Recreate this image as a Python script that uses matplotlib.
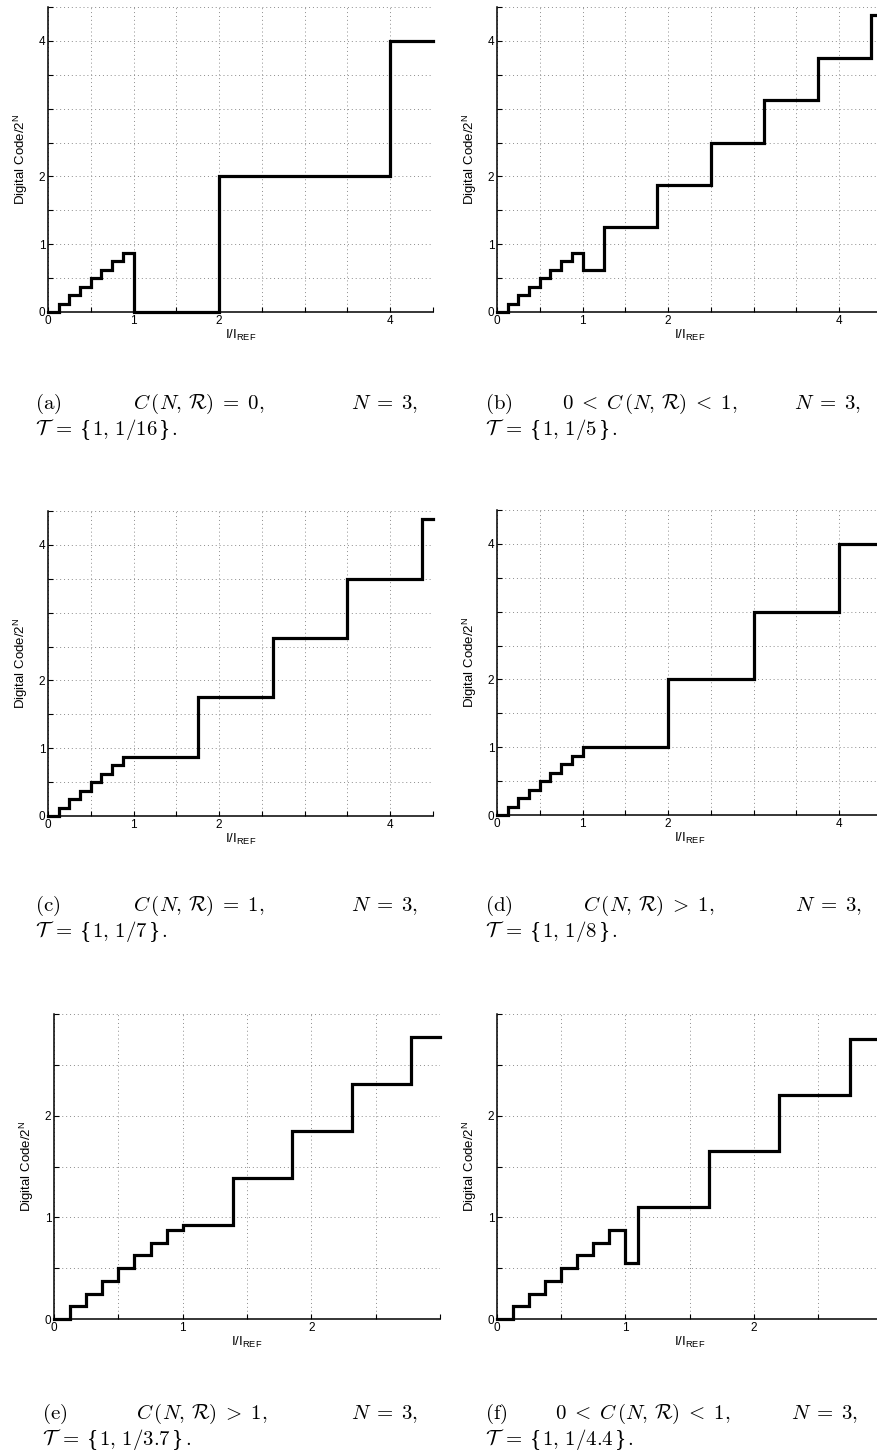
import numpy as np
import matplotlib
matplotlib.use('Agg')
import matplotlib.pyplot as plt

plt.rcParams['font.family'] = ['Liberation Sans', 'DejaVu Sans']
plt.rcParams['mathtext.fontset'] = 'custom'
plt.rcParams['mathtext.rm'] = 'Liberation Sans'
plt.rcParams['mathtext.it'] = 'Liberation Sans:italic'
plt.rcParams['mathtext.bf'] = 'Liberation Sans:bold'

W, H = 878, 1454

# fine range (first 8 codes) shared by every curve
fine_x = [0, 0.125, 0.25, 0.375, 0.5, 0.625, 0.75, 0.875]
fine_y = [0, 0.125, 0.25, 0.375, 0.5, 0.625, 0.75, 0.875]

# breakpoints on I/I_REF and the code level held after each one
a_x = fine_x + [1.0, 2.0, 4.0, 4.5]
a_y = fine_y + [0.0, 2.0, 4.0, 4.0]

b_x = fine_x + [1.0, 1.25, 1.875, 2.5, 3.125, 3.75, 4.375, 4.5]
b_y = fine_y + [0.625, 1.25, 1.875, 2.5, 3.125, 3.75, 4.375, 4.375]

c_x = fine_x + [1.75, 2.625, 3.5, 4.375, 4.5]
c_y = fine_y + [1.75, 2.625, 3.5, 4.375, 4.375]

d_x = fine_x + [1.0, 2.0, 3.0, 4.0, 4.5]
d_y = fine_y + [1.0, 2.0, 3.0, 4.0, 4.0]

e_x = fine_x + [1.0, 1.3875, 1.85, 2.3125, 2.775, 3.0]
e_y = fine_y + [0.925, 1.3875, 1.85, 2.3125, 2.775, 2.775]

f_x = fine_x + [1.0, 1.1, 1.65, 2.2, 2.75, 3.0]
f_y = fine_y + [0.55, 1.1, 1.65, 2.2, 2.75, 2.75]

big_ticks = [0, 0.5, 1, 1.5, 2, 2.5, 3, 3.5, 4, 4.5]
big_labels = ['0', '', '1', '', '2', '', '', '', '4', '']
small_ticks = [0, 0.5, 1, 1.5, 2, 2.5, 3]
small_labels = ['0', '', '1', '', '2', '', '']

tags = ['(a)', '(b)', '(c)', '(d)', '(e)', '(f)']
crn = r'C\,(N,\,\mathcal{R})'
conds = [crn + r'\;=\;0,', r'0\;<\;' + crn + r'\;<\;1,', crn + r'\;=\;1,',
         crn + r'\;>\;1,', crn + r'\;>\;1,', r'0\;<\;' + crn + r'\;<\;1,']
tsets = ['1/16', '1/5', '1/7', '1/8', '1/3.7', '1/4.4']

# pixel boxes: left, top, right, bottom
panels = [
    dict(box=(48, 7, 433, 312), x=a_x, y=a_y, big=True,
         cap=(35, 133, 418, 409)),
    dict(box=(497, 7, 882, 312), x=b_x, y=b_y, big=True,
         cap=(485, 562, 861, 409)),
    dict(box=(48, 511, 433, 816), x=c_x, y=c_y, big=True,
         cap=(35, 133, 418, 911)),
    dict(box=(497, 510, 882, 815), x=d_x, y=d_y, big=True,
         cap=(485, 583, 862, 911)),
    dict(box=(54, 1014, 440, 1319), x=e_x, y=e_y, big=False,
         cap=(42, 136, 418, 1419)),
    dict(box=(497, 1014, 882, 1319), x=f_x, y=f_y, big=False,
         cap=(485, 555, 858, 1419)),
]

fig = plt.figure(figsize=(W / 100, H / 100), dpi=100)
renderer = fig.canvas.get_renderer()


def fx(px):
    return px / W


def fy(py):
    return 1 - py / H


CAP = 15


def run_text(x, base, pieces):
    # lay out pieces left to right: (text, text kwargs, gap after in px)
    for s, kw, gap in pieces:
        t = fig.text(fx(x), fy(base), s, va='baseline', ha='left', **kw)
        x = t.get_window_extent(renderer).x1 + gap


cm = dict(math_fontfamily='cm', fontsize=CAP)
brace = dict(family='Liberation Serif', fontsize=CAP + 2)

for i, p in enumerate(panels):
    l, t, r, b = p['box']
    ax = fig.add_axes([fx(l), fy(b), (r - l) / W, (b - t) / H])
    ticks = big_ticks if p['big'] else small_ticks
    labels = big_labels if p['big'] else small_labels
    lim = ticks[-1]

    ax.step(p['x'], p['y'], where='post', color='black', lw=2.3,
            solid_joinstyle='miter', zorder=3, clip_on=False)

    ax.set_xlim(0, lim)
    ax.set_ylim(0, lim)
    ax.set_xticks(ticks)
    ax.set_xticklabels(labels)
    ax.set_yticks(ticks)
    ax.set_yticklabels(labels)
    ax.grid(True, color='0.55', lw=0.7, linestyle=(0, (1, 3)))
    ax.set_axisbelow(True)
    for s in ['top', 'right']:
        ax.spines[s].set_visible(False)
    for s in ['left', 'bottom']:
        ax.spines[s].set_linewidth(1.1)
    ax.tick_params(direction='in', length=3.5, width=0.8, labelsize=8.5,
                   pad=2, top=False, right=False)
    ax.set_xlabel(r'I/I$_{\mathrm{REF}}$', fontsize=9.5, labelpad=1)
    ax.set_ylabel(r'Digital Code/2$^{\mathrm{N}}$', fontsize=9.5, labelpad=6)

    # caption below the panel
    x0, x1, x2, base = p['cap']
    fig.text(fx(x0), fy(base), r'$\mathrm{' + tags[i] + '}$',
             va='baseline', ha='left', **cm)
    fig.text(fx(x1), fy(base), '$' + conds[i] + '$',
             va='baseline', ha='left', **cm)
    fig.text(fx(x2), fy(base), r'$N\;=\;3,$',
             va='baseline', ha='right', **cm)
    run_text(x0, base + 26, [
        (r'$\mathcal{T}\;=$', cm, 8),
        ('{', brace, 1),
        (r'$1,\,' + tsets[i] + '$', cm, 1),
        ('}', brace, 1),
        (r'$.$', cm, 0),
    ])

fig.savefig('out.png', dpi=100)
